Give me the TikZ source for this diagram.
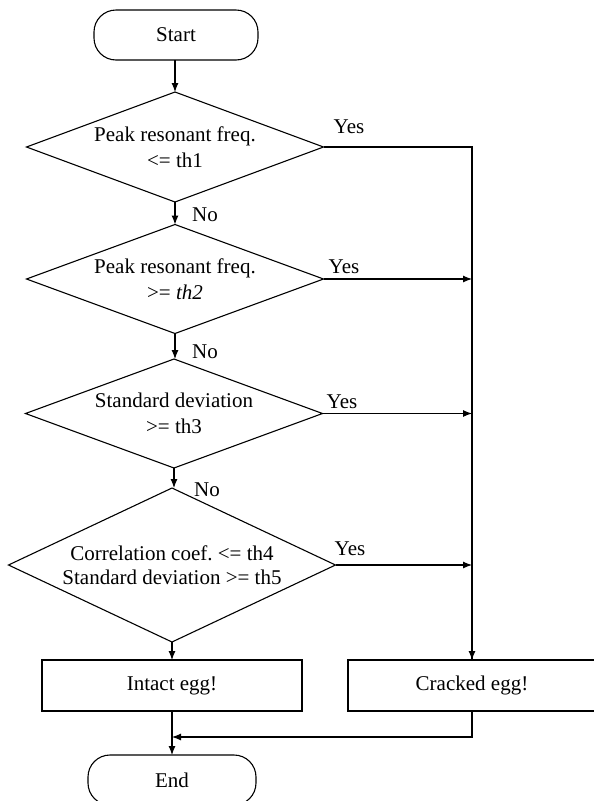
\documentclass[tikz,border=0pt]{standalone}
\usepackage{fontspec}
\setmainfont{Liberation Serif}
\usetikzlibrary{arrows.meta}
\frenchspacing
\begin{document}
\begin{tikzpicture}[x=1pt,y=-1pt,
  every node/.style={font=\fontsize{21}{26}\selectfont},
  arr/.style={line width=1.1pt,-{Latex[length=9pt,width=7pt]}},
  term/.style={draw,line width=1.1pt,rounded corners=22pt,minimum width=164pt,minimum height=50pt,inner sep=0pt,outer sep=0pt},
  dec/.style={inner sep=0pt,outer sep=0pt,align=center},
  decborder/.style={draw,line width=1.1pt,line join=miter},
  proc/.style={draw,line width=1.1pt,minimum height=51pt,inner sep=0pt,outer sep=0pt},
  lab/.style={inner sep=0pt}]
\useasboundingbox (0,0) rectangle (594,801);
\clip (0,0) rectangle (594,801);
\fill[white] (0,0) rectangle (594,801);

\node[term] (st) at (176,35) {Start};
\node[dec,minimum width=297pt,minimum height=110pt] (d1) at (175,147)
  {Peak resonant freq.\\ <= th1};
\node[dec,minimum width=297pt,minimum height=109pt] (d2) at (175,279)
  {Peak resonant freq.\\ >= \textit{th2}};
\node[dec,minimum width=297pt,minimum height=109pt] (d3) at (174,413.5)
  {Standard deviation\\ >= th3};
\node[dec,minimum width=327pt,minimum height=154pt,font=\fontsize{21}{24}\selectfont] (d4) at (172,565)
  {Correlation coef. <= th4\\ Standard deviation >= th5};
\foreach \d in {d1,d2,d3,d4}
  \draw[decborder] (\d.north) -- (\d.east) -- (\d.south) -- (\d.west) -- cycle;
\node[proc,minimum width=260pt] (in) at (172,685.5) {Intact egg!};
\node[proc,minimum width=248pt] (cr) at (472,685.5) {Cracked egg!};
\node[term,minimum width=168pt] (en) at (172,780) {End};

\coordinate (j) at (172,737);

\draw[arr] (st.south -| d1.north) -- (d1.north);
\draw[arr] (d1.south) -- (d2.north);
\draw[arr] (d2.south) -- (d2.south |- d3.north);
\draw[arr] (d3.south) -- (d3.south |- d4.north);
\draw[arr] (d4.south) -- (in.north);
\draw[arr] (in.south) -- (en.north);

\draw[line width=1.1pt] (d1.east) -| (cr.north);
\draw[arr] (d1.east -| cr.north) -- (cr.north);
\draw[arr] (d2.east) -- (d2.east -| cr.north);
\draw[arr] (d3.east) -- (d3.east -| cr.north);
\draw[arr] (d4.east) -- (d4.east -| cr.north);
\draw[arr] (cr.south) |- (j);

\node[lab] (y1) at (349,127) {Yes};
\node[lab] (y2) at (344,267) {Yes};
\node[lab] (y3) at (342,402) {Yes};
\node[lab] (y4) at (350,549) {Yes};
\node[lab] (n1) at (205,215) {No};
\node[lab] (n2) at (205,352) {No};
\node[lab] (n3) at (207,490) {No};
\end{tikzpicture}
\end{document}
